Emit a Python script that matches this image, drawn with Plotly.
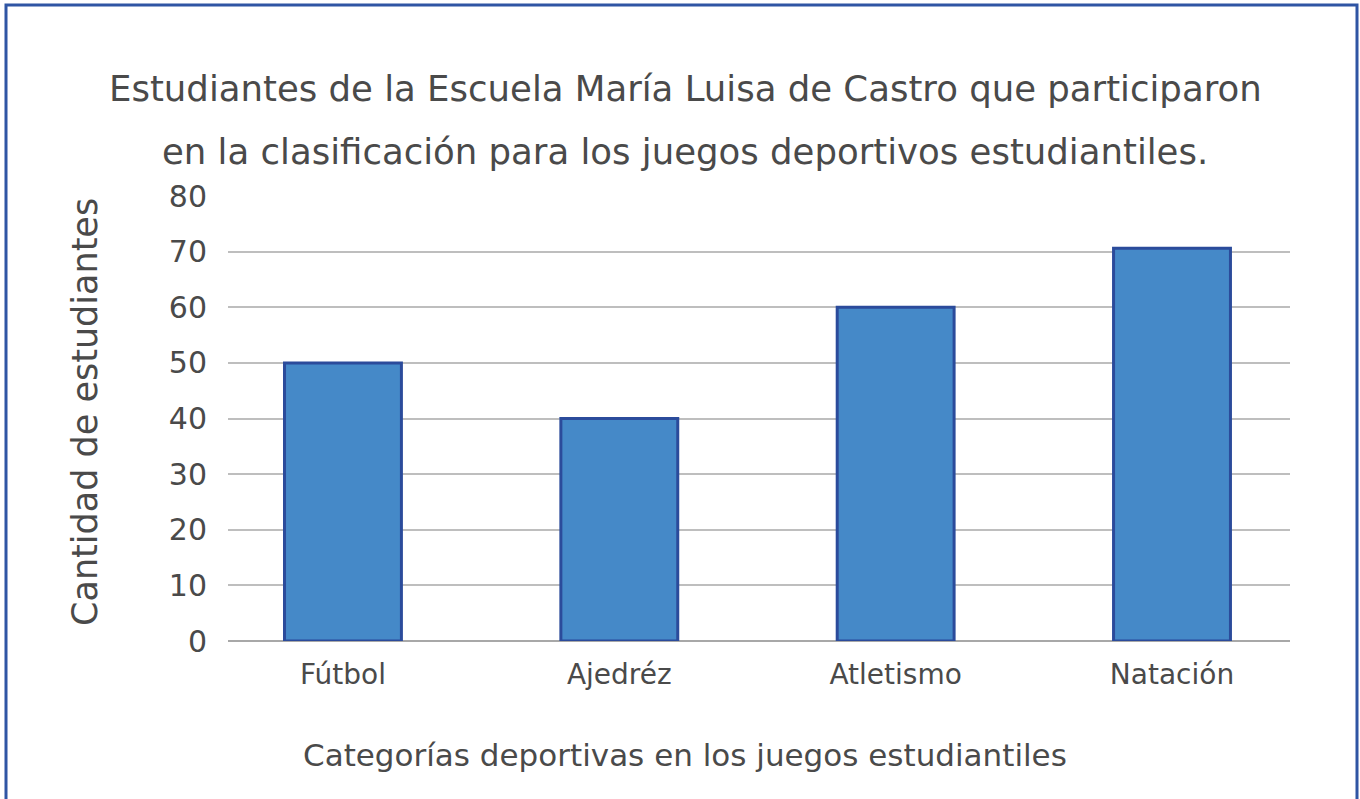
import plotly.graph_objects as go

categories = ["Fútbol", "Ajedréz", "Atletismo", "Natación"]
values = [50, 40, 60, 70.6]
y_ticks = [0, 10, 20, 30, 40, 50, 60, 70, 80]

title_line1 = "Estudiantes de la Escuela María Luisa de Castro que participaron"
title_line2 = "en la clasificación para los juegos deportivos estudiantiles."
x_title = "Categorías deportivas en los juegos estudiantiles"
y_title = "Cantidad de estudiantes"

W, H = 1360, 799
L, R, T, B = 228, 70, 196, 158
pw, ph = W - L - R, H - T - B

def px_x(x):
    return (x - L) / pw

def px_y(y):
    return (H - B - y) / ph

FONT = "DejaVu Sans"
TXT = "#4a4a4a"

fig = go.Figure(go.Bar(
    x=categories, y=values, width=0.423,
    marker=dict(color="#4589C8", line=dict(color="#2B4B9B", width=3)),
))

fig.update_layout(
    width=W, height=H,
    margin=dict(l=L, r=R, t=T, b=B),
    paper_bgcolor="white", plot_bgcolor="white",
    showlegend=False,
    font=dict(family=FONT, color=TXT),
    xaxis=dict(
        range=[-0.416, 3.427], showgrid=False, zeroline=False, showline=False,
        ticks="", tickfont=dict(size=28, color=TXT, family=FONT),
        ticklabelstandoff=14,
    ),
    yaxis=dict(
        range=[0, 80], tickvals=y_ticks, showgrid=True, gridcolor="#BEBEBE",
        gridwidth=1.5, zeroline=True, zerolinecolor="#A8A8A8", zerolinewidth=1.5,
        showline=False, ticks="", tickfont=dict(size=30, color=TXT, family=FONT),
        ticklabelstandoff=20,
    ),
    annotations=[
        dict(text=title_line1, x=px_x(685), y=px_y(88), xref="paper", yref="paper",
             showarrow=False, xanchor="center", yanchor="middle",
             font=dict(size=35.5, color=TXT, family=FONT)),
        dict(text=title_line2, x=px_x(685), y=px_y(151), xref="paper", yref="paper",
             showarrow=False, xanchor="center", yanchor="middle",
             font=dict(size=35.5, color=TXT, family=FONT)),
        dict(text=x_title, x=px_x(685), y=px_y(755), xref="paper", yref="paper",
             showarrow=False, xanchor="center", yanchor="middle",
             font=dict(size=31, color=TXT, family=FONT)),
        dict(text=y_title, x=px_x(85), y=px_y(412), xref="paper", yref="paper",
             showarrow=False, xanchor="center", yanchor="middle", textangle=-90,
             font=dict(size=35, color=TXT, family=FONT)),
    ],
    shapes=[
        dict(type="rect", xref="paper", yref="paper",
             x0=px_x(6), x1=px_x(1357), y0=px_y(820), y1=px_y(5),
             line=dict(color="#2F55A4", width=3), fillcolor="rgba(0,0,0,0)",
             layer="above"),
    ],
)

fig.write_html("out.html", config={"displayModeBar": False},
               post_script="document.body.style.margin='0';")
